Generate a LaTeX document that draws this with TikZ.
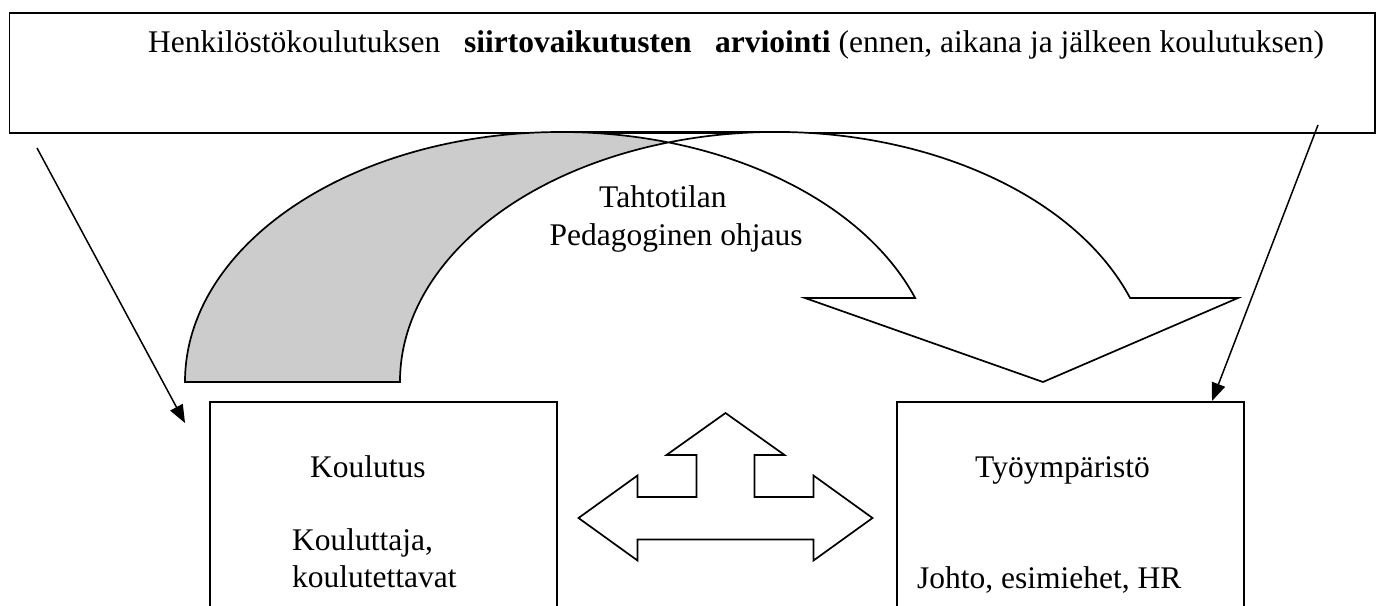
\documentclass[tikz,border=0pt]{standalone}
\usepackage{fontspec}
\setmainfont{Liberation Serif}
\usetikzlibrary{arrows.meta}
\begin{document}
\begin{tikzpicture}[x=1pt,y=-1pt,
  txt/.style={inner sep=0pt,anchor=base west,font=\fontsize{31.5}{36}\selectfont},
  boxshape/.style={draw=black,line width=1.7pt,fill=white,inner sep=0pt,anchor=north west},
  conn/.style={line width=1.5pt,-{Triangle[length=18pt,width=14pt]}},
  shapeline/.style={draw=black,line width=1.7pt,line join=miter}
]
\useasboundingbox (0,0) rectangle (1378,605);
\clip (0,0) rectangle (1378,605);

% top box
\node[boxshape,minimum width=1365.5pt,minimum height=120pt] (top) at (8.5,12) {};
\node[txt] (toptext) at (148,52) {Henkilöstökoulutuksen\ \ \ \textbf{siirtovaikutusten\ \ \ arviointi} (ennen, aikana ja jälkeen koulutuksen)};

% curved down arrow: white front part
\path[fill=white] (185,382) arc[start angle=180,end angle=340.37,x radius=376,y radius=250]
  -- (805,298) -- (1043,382) -- (1238,298) -- (1130.1,298)
  arc[start angle=340.37,end angle=180,x radius=376,y radius=250] -- cycle;
% shaded back part
\path[fill=black!20] (185,382) arc[start angle=180,end angle=286.61,x radius=376,y radius=250]
  arc[start angle=253.39,end angle=180,x radius=376,y radius=250] -- cycle;
% outline
\draw[shapeline] (185,382) arc[start angle=180,end angle=340.37,x radius=376,y radius=250]
  -- (805,298) -- (1043,382) -- (1238,298) -- (1130.1,298)
  arc[start angle=340.37,end angle=180,x radius=376,y radius=250] -- cycle;
\draw[shapeline] (561,132) -- (776,132);

\node[txt] (tahto) at (599,207.5) {Tahtotilan};
\node[txt] (peda) at (549.5,245.5) {Pedagoginen ohjaus};

% lower boxes
\node[boxshape,minimum width=347pt,minimum height=240pt] (koul) at (209,401) {};
\node[boxshape,minimum width=347pt,minimum height=240pt] (tyo) at (896,401) {};

\node[txt] (koultxt) at (310,477) {Koulutus};
\node[txt] (koul2) at (292,550) {Kouluttaja,};
\node[txt] (koul3) at (292,587) {koulutettavat};
\node[txt] (tyotxt) at (975,477) {Työympäristö};
\node[txt] (tyo2) at (917,588) {Johto, esimiehet, HR};

% three-way block arrow
\draw[shapeline,fill=white] (725.5,413) -- (784.5,455) -- (754.5,455) -- (754.5,497)
  -- (813.5,497) -- (813.5,475.5) -- (872.5,518) -- (813.5,560.5) -- (813.5,539.5)
  -- (637.5,539.5) -- (637.5,560.5) -- (578.5,518) -- (637.5,475.5) -- (637.5,497)
  -- (696.5,497) -- (696.5,455) -- (666.5,455) -- cycle;

% connectors
\coordinate (s1) at (37,148);
\coordinate (e1) at (185,423);
\coordinate (s2) at (1318,125);
\coordinate (e2) at (1212,401);
\draw[conn] (s1) -- (e1);
\draw[conn] (s2) -- (e2);
\end{tikzpicture}
\end{document}
